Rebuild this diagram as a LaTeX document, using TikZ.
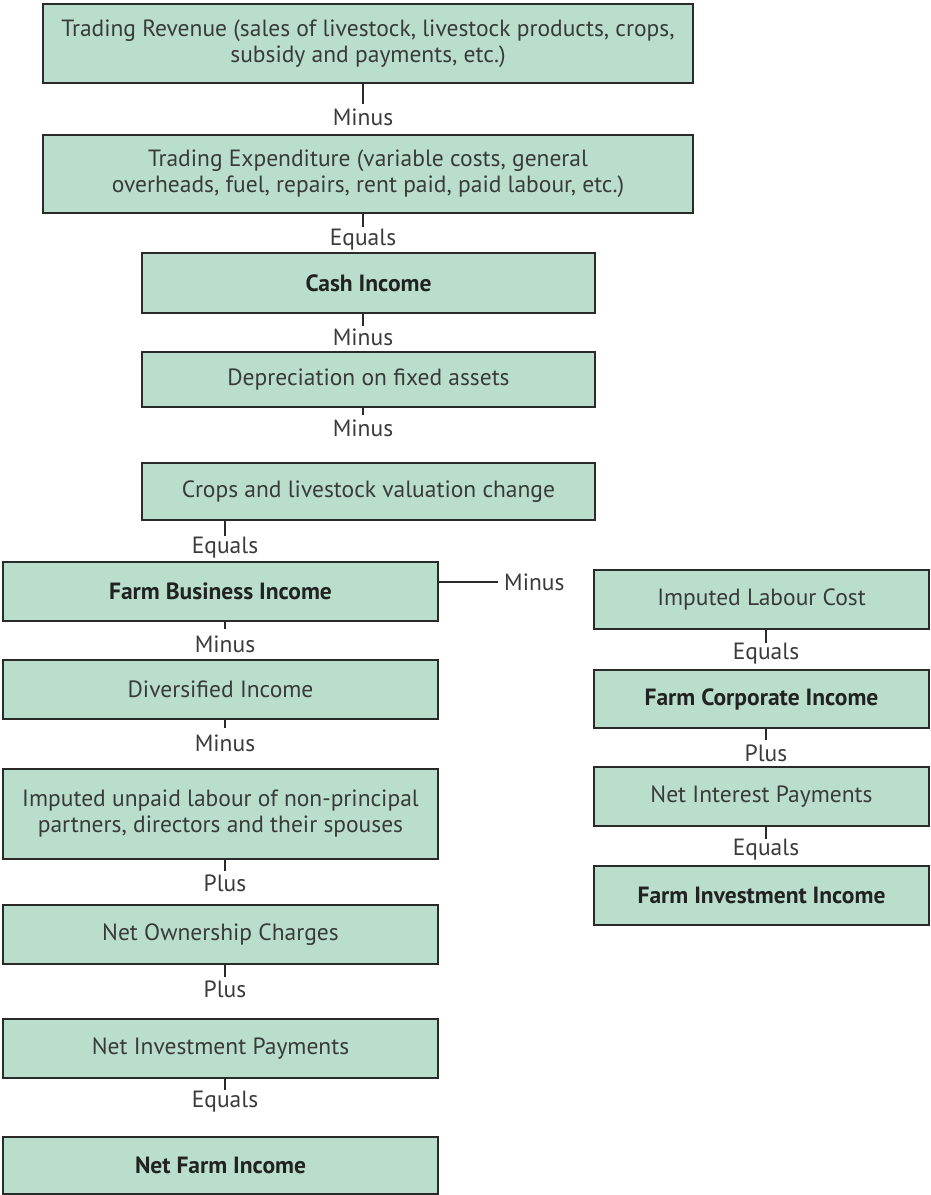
\documentclass[tikz,border=0pt]{standalone}
\usepackage{fontspec}
\setmainfont{PT Sans}
\begin{document}
\begin{tikzpicture}[x=1pt,y=-1pt,
  every node/.style={font=\fontsize{23.5}{26}\selectfont, text=txt},
  box/.style={draw=edge, line width=2pt, fill=boxfill, inner sep=0pt, align=center},
  strong/.style={font=\fontsize{23.5}{26}\selectfont\bfseries, text=txtdark},
  op/.style={inner sep=0pt, text height=17pt, text depth=4pt, anchor=base},
  link/.style={draw=edge, line width=2pt}
]
\definecolor{boxfill}{HTML}{B9DFCC}
\definecolor{edge}{HTML}{2A2A2A}
\definecolor{txt}{HTML}{3A3A3A}
\definecolor{txtdark}{HTML}{222222}
\useasboundingbox (0,0) rectangle (930,1195);

% main column (top)
\node[box, minimum width=650pt, minimum height=79pt] (tr) at (368,43.5)
  {Trading Revenue (sales of livestock, livestock products, crops,\\subsidy and payments, etc.)};
\node[box, minimum width=650pt, minimum height=78pt] (te) at (368,174)
  {Trading Expenditure (variable costs, general\\overheads, fuel, repairs, rent paid, paid labour, etc.)};
\node[box, strong, minimum width=453pt, minimum height=60pt] (ci) at (368.5,283) {Cash Income};
\node[box, minimum width=453pt, minimum height=55pt] (dep) at (368.5,379.5) {Depreciation on fixed assets};
\node[box, minimum width=453pt, minimum height=57pt] (crops) at (368.5,491.5) {Crops and livestock valuation change};

% left column
\node[box, strong, minimum width=435pt, minimum height=59pt] (fbi) at (220.5,591.5) {Farm Business Income};
\node[box, minimum width=435pt, minimum height=59pt] (di) at (220.5,689.5) {Diversified Income};
\node[box, minimum width=435pt, minimum height=90pt] (iul) at (220.5,814)
  {Imputed unpaid labour of non-principal\\partners, directors and their spouses};
\node[box, minimum width=435pt, minimum height=59pt] (noc) at (220.5,934.5) {Net Ownership Charges};
\node[box, minimum width=435pt, minimum height=59pt] (nip) at (220.5,1048.5) {Net Investment Payments};
\node[box, strong, minimum width=435pt, minimum height=57pt] (nfi) at (220.5,1165.5) {Net Farm Income};

% right column
\node[box, minimum width=335pt, minimum height=59pt] (ilc) at (761.5,599.5) {Imputed Labour Cost};
\node[box, strong, minimum width=335pt, minimum height=58pt] (fci) at (761.5,699) {Farm Corporate Income};
\node[box, minimum width=335pt, minimum height=59pt] (nint) at (761.5,796.5) {Net Interest Payments};
\node[box, strong, minimum width=335pt, minimum height=59pt] (fii) at (761.5,895.5) {Farm Investment Income};

% operator labels
\node[op] (o1) at (363,125.5) {Minus};
\node[op] (o2) at (363,245.5) {Equals};
\node[op] (o3) at (363,345.5) {Minus};
\node[op] (o4) at (363,436.5) {Minus};
\node[op] (o5) at (225,553.5) {Equals};
\node[op, anchor=base west] (o6) at (504,590.5) {Minus};
\node[op] (o7) at (225,652.5) {Minus};
\node[op] (o8) at (225,751.5) {Minus};
\node[op] (o9) at (225,891.5) {Plus};
\node[op] (o10) at (225,997.5) {Plus};
\node[op] (o11) at (225,1107.5) {Equals};
\node[op] (o12) at (766,659.5) {Equals};
\node[op] (o13) at (766,761.5) {Plus};
\node[op] (o14) at (766,855.5) {Equals};

% connectors
\draw[link] (tr.south -| o1.north) -- ([yshift=4pt]o1.north);
\draw[link] (te.south -| o2.north) -- ([yshift=1pt]o2.north);
\draw[link] (ci.south -| o3.north) -- ([yshift=2pt]o3.north);
\draw[link] (dep.south -| o4.north) -- ([yshift=4pt]o4.north);
\draw[link] (crops.south -| o5.north) -- ([yshift=0pt]o5.north);
\draw[link] (fbi.east |- o6.west) ++(0,-2) -- ([xshift=-6pt,yshift=2pt]o6.west);
\draw[link] (fbi.south -| o7.north) -- ([yshift=6pt]o7.north);
\draw[link] (di.south -| o8.north) -- ([yshift=6pt]o8.north);
\draw[link] (iul.south -| o9.north) -- ([yshift=3pt]o9.north);
\draw[link] (noc.south -| o10.north) -- ([yshift=3pt]o10.north);
\draw[link] (nip.south -| o11.north) -- ([yshift=0pt]o11.north);
\draw[link] (ilc.south -| o12.north) -- ([yshift=-1pt]o12.north);
\draw[link] (fci.south -| o13.north) -- ([yshift=4pt]o13.north);
\draw[link] (nint.south -| o14.north) -- ([yshift=-1pt]o14.north);
\end{tikzpicture}
\end{document}
